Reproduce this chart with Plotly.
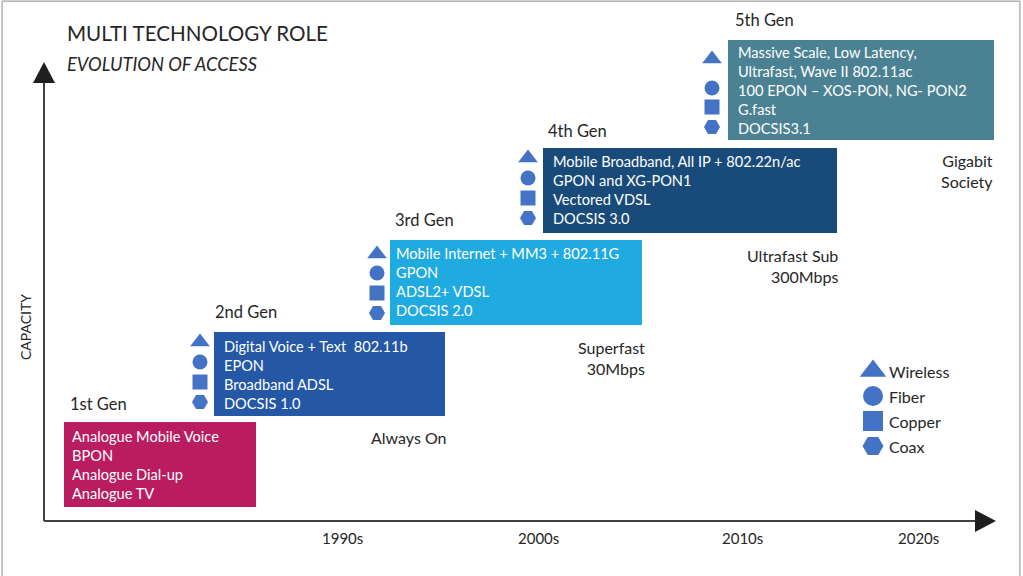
import plotly.graph_objects as go

# ---------------- data ----------------
title = "MULTI TECHNOLOGY ROLE"
subtitle = "EVOLUTION OF ACCESS"
y_axis_label = "CAPACITY"
decades = ["1990s", "2000s", "2010s", "2020s"]
generations = ["1st Gen", "2nd Gen", "3rd Gen", "4th Gen", "5th Gen"]
gen_lines = [
    ["Analogue Mobile Voice", "BPON", "Analogue Dial-up", "Analogue TV"],
    ["Digital Voice + Text  802.11b", "EPON", "Broadband ADSL", "DOCSIS 1.0"],
    ["Mobile Internet + MM3 + 802.11G", "GPON", "ADSL2+ VDSL", "DOCSIS 2.0"],
    ["Mobile Broadband, All IP + 802.22n/ac", "GPON and XG-PON1", "Vectored VDSL", "DOCSIS 3.0"],
    ["Massive Scale, Low Latency,", "Ultrafast, Wave II 802.11ac", "100 EPON \u2013 XOS-PON, NG- PON2", "G.fast", "DOCSIS3.1"],
]
gen_colors = ["#B91D60", "#2457A6", "#1FAAE0", "#194B7A", "#4B8293"]
milestones = ["Always On", "Superfast<br>30Mbps", "Ultrafast Sub<br>300Mbps", "Gigabit<br>Society"]
technologies = ["Wireless", "Fiber", "Copper", "Coax"]
tech_symbols = ["triangle-up", "circle", "square", "hexagon2"]
icon_color = "#4472C4"

# ---------------- layout geometry (pixels) ----------------
box_x0 = [64, 214, 390, 543, 728]
box_x1 = [256, 445, 642, 837, 994]
box_y0 = [422, 332, 240, 148, 40]
box_y1 = [507, 416, 325, 233, 140]
label_pos = [(68, 404), (213, 312), (393, 220), (546, 131), (733, 20)]
text_x = [70, 222, 394, 551, 736]
text_y0 = [436, 346, 253, 161, 52]
line_step = 19
icon_x = [None, 200, 377, 528, 712]
icon_ys = [None, [342, 362, 382, 402], [254, 273, 293, 313], [158, 178, 198, 218], [59, 88, 107, 127]]
decade_x = [342, 538, 742, 918]
decade_y = 538
milestone_pos = [(449, 437, "right"), (647, 358, "right"), (840, 266, "right"), (995, 171, "right")]
legend_icon_x, legend_text_x = 873, 887
legend_y = [371, 396, 421, 446]

FONT = "Lato"
TXT = "#262626"

fig = go.Figure()
shapes = []
ann = []

# frame (top, left, right edges)
frame = dict(color="#A0A0A0", width=1.2)
shapes.append(dict(type="line", xref="paper", yref="paper", x0=0.002, x1=0.997, y0=0.998, y1=0.998, line=frame))
shapes.append(dict(type="line", xref="paper", yref="paper", x0=0.002, x1=0.002, y0=0, y1=0.998, line=frame))
shapes.append(dict(type="line", xref="paper", yref="paper", x0=0.997, x1=0.997, y0=0, y1=0.998, line=frame))

# axes arrows
shapes.append(dict(type="line", x0=44, x1=44, y0=521, y1=78, line=dict(color="#404040", width=2)))
shapes.append(dict(type="line", x0=44, x1=978, y0=521, y1=521, line=dict(color="#404040", width=2)))
shapes.append(dict(type="path", path="M 33 83 L 44 62 L 55 83 Z", fillcolor="#1F1F1F", line=dict(width=0)))
shapes.append(dict(type="path", path="M 975 510 L 996 521 L 975 532 Z", fillcolor="#1F1F1F", line=dict(width=0)))

# title
ann.append(dict(x=65, y=33, text=title, xanchor="left", yanchor="middle", showarrow=False,
                font=dict(family=FONT, size=20.6, color=TXT)))
ann.append(dict(x=65, y=64, text="<i>" + subtitle + "</i>", xanchor="left", yanchor="middle", showarrow=False,
                font=dict(family=FONT, size=18.3, color=TXT)))
ann.append(dict(x=25, y=327, text=y_axis_label, textangle=-90, xanchor="center", yanchor="middle", showarrow=False,
                font=dict(family=FONT, size=14, color=TXT)))

# boxes + text
for i, g in enumerate(generations):
    shapes.append(dict(type="rect", x0=box_x0[i], x1=box_x1[i], y0=box_y0[i], y1=box_y1[i],
                       fillcolor=gen_colors[i], line=dict(width=0), layer="below"))
    lx, ly = label_pos[i]
    ann.append(dict(x=lx, y=ly, text=g, xanchor="left", yanchor="middle", showarrow=False,
                    font=dict(family=FONT, size=16.5, color=TXT)))
    for k, line in enumerate(gen_lines[i]):
        ann.append(dict(x=text_x[i], y=text_y0[i] + k * line_step, text=line, xanchor="left", yanchor="middle",
                        showarrow=False, font=dict(family=FONT, size=14.6, color="white")))
    if icon_x[i] is not None:
        sizes = [17, 15, 15, 16]
        fig.add_trace(go.Scatter(x=[icon_x[i]] * 4, y=icon_ys[i], mode="markers", hoverinfo="skip",
                                 opacity=1,
                                 marker=dict(symbol=tech_symbols, size=sizes, color=icon_color, opacity=1,
                                             line=dict(width=0)),
                                 showlegend=False))

# milestones
for (mx, my, anc), txt in zip(milestone_pos, milestones):
    ann.append(dict(x=mx, y=my, text=txt, xanchor=anc, yanchor="middle", align="right", showarrow=False,
                    font=dict(family=FONT, size=16, color=TXT)))

# decade labels
for dx, d in zip(decade_x, decades):
    ann.append(dict(x=dx, y=decade_y, text=d, xanchor="center", yanchor="middle", showarrow=False,
                    font=dict(family=FONT, size=15, color=TXT)))

# legend
fig.add_trace(go.Scatter(x=[legend_icon_x] * 4, y=legend_y, mode="markers", hoverinfo="skip", opacity=1,
                         marker=dict(symbol=tech_symbols, size=[23, 20, 20, 21], color=icon_color, opacity=1,
                                     line=dict(width=0)),
                         showlegend=False))
for ty, t in zip(legend_y, technologies):
    ann.append(dict(x=legend_text_x, y=ty, text=t, xanchor="left", yanchor="middle", showarrow=False,
                    font=dict(family=FONT, size=16, color=TXT)))

fig.update_layout(
    width=1023, height=576, margin=dict(l=0, r=0, t=0, b=0),
    paper_bgcolor="white", plot_bgcolor="white",
    xaxis=dict(range=[0, 1023], visible=False, fixedrange=True),
    yaxis=dict(range=[576, 0], visible=False, fixedrange=True),
    shapes=shapes, annotations=ann, showlegend=False,
)
fig.write_html("out.html", config={"displayModeBar": False},
               post_script="document.body.style.margin='0px';document.body.style.overflow='hidden';")
